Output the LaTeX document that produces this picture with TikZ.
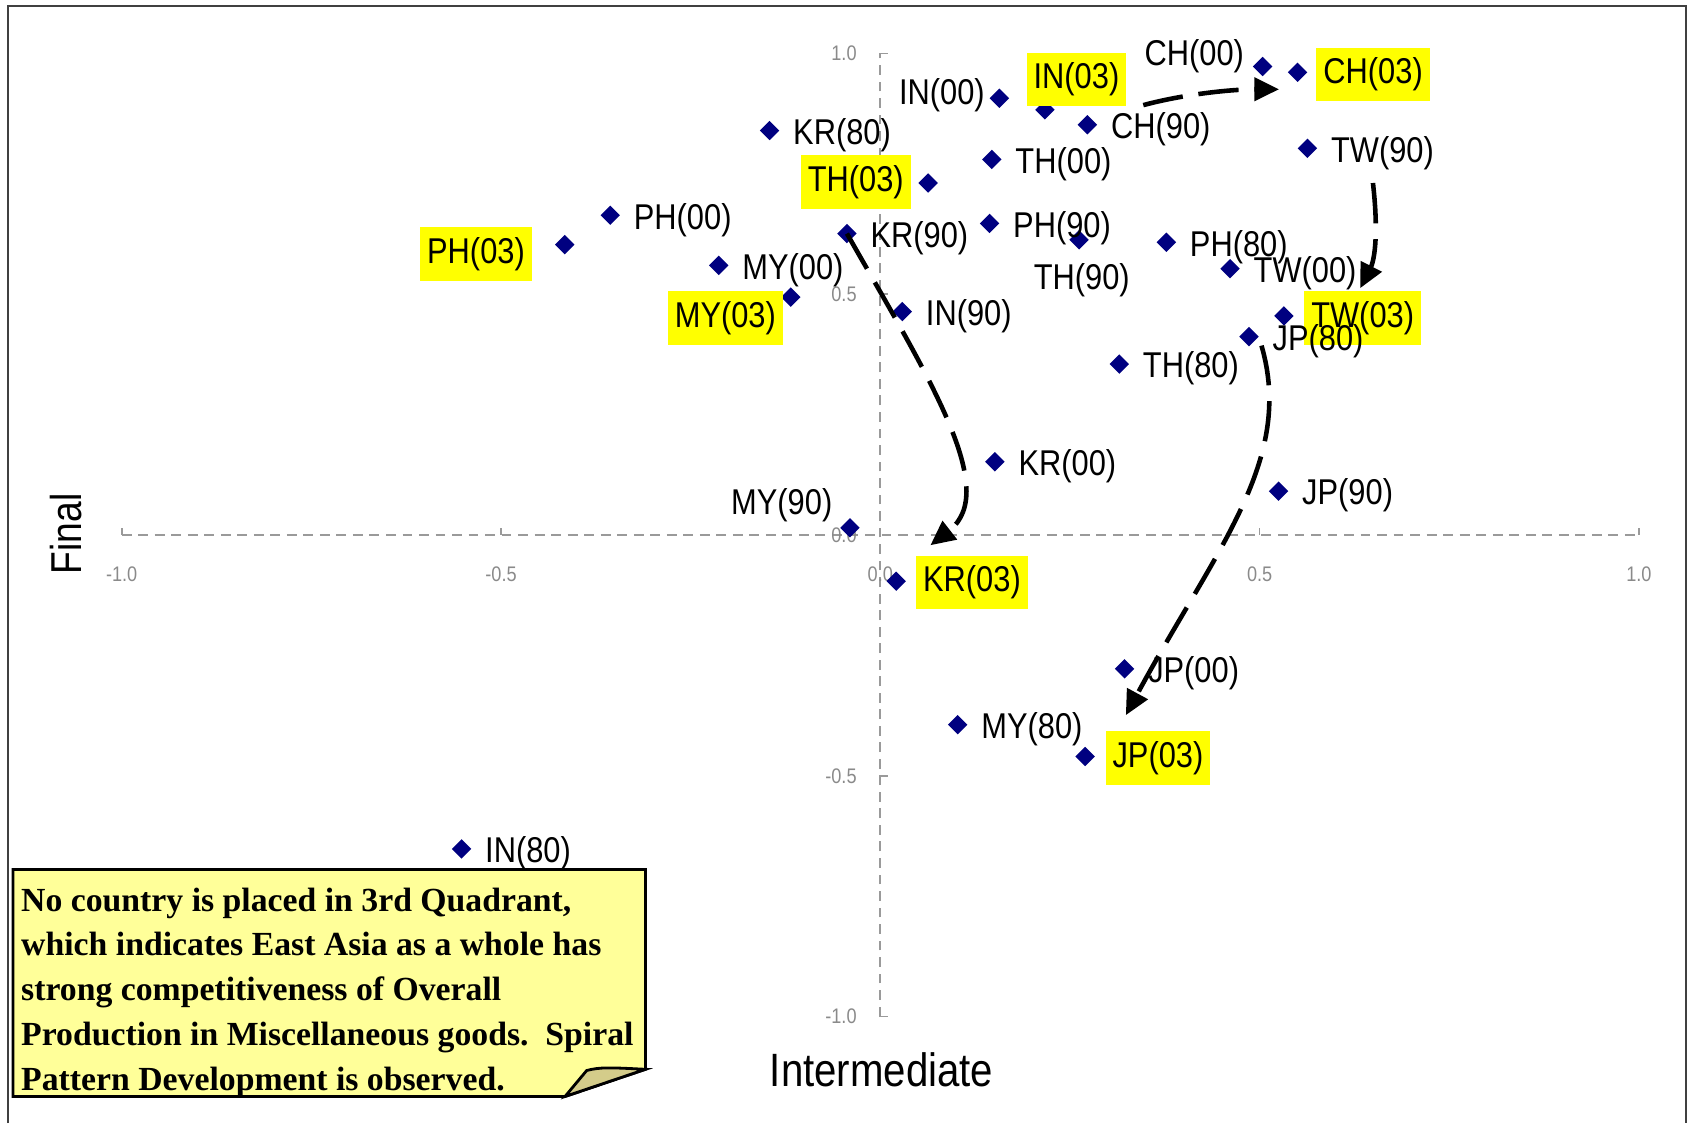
\documentclass[tikz,border=0pt]{standalone}
\usepackage{fontspec}
\setmainfont{Liberation Sans}[FakeStretch=0.86]
\newfontfamily\notefont{Liberation Serif}
\usetikzlibrary{positioning,shapes.geometric,arrows.meta}
\definecolor{ptblue}{HTML}{000080}
\definecolor{hilite}{HTML}{FFFF00}
\definecolor{notebg}{HTML}{FFFF99}
\definecolor{foldbg}{HTML}{D4CC8A}
\definecolor{axisgray}{HTML}{9A9A9A}
\definecolor{tickgray}{HTML}{8A8A8A}
\definecolor{frame}{HTML}{404040}
\begin{document}
\begin{tikzpicture}[
  datapt/.style={diamond, fill=ptblue, inner sep=0pt, minimum width=2mm, minimum height=2mm},
  lbl/.style={inner sep=0.5pt, font=\fontsize{10.2}{12}\selectfont, yshift=-0.45mm},
  hl/.style={fill=hilite, inner xsep=0.7mm, inner ysep=1mm, font=\fontsize{10.2}{12}\selectfont},
  trend/.style={line width=1.3pt, dash pattern=on 11.5pt off 4.5pt, -{Triangle[length=7pt,width=6.5pt]}},
  axisline/.style={axisgray, line width=0.5pt, dash pattern=on 2.8pt off 1.9pt},
  ticklbl/.style={tickgray, inner sep=0pt, font=\fontsize{6}{7}\selectfont}]
  \useasboundingbox (0,0) rectangle (16.92,11.23);
  \draw[frame, line width=0.6pt] (0.08,0) -- (0.08,11.17) -- (16.86,11.17) -- (16.86,0);

  % plot area, data units
  \begin{scope}[shift={(8.803,5.88)}, x=7.586cm, y=4.815cm]
    \draw[axisline] (-1,0) -- (1,0);
    \draw[axisline] (0,-1) -- (0,1);
    \draw[axisgray, line width=0.5pt] (-1,0) -- ++(0,0.07cm);
    \draw[axisgray, line width=0.5pt] (-0.5,0) -- ++(0,0.07cm);
    \draw[axisgray, line width=0.5pt] (0.5,0) -- ++(0,0.07cm);
    \draw[axisgray, line width=0.5pt] (1,0) -- ++(0,0.07cm);
    \draw[axisgray, line width=0.5pt] (0,1) -- ++(0.08cm,0);
    \draw[axisgray, line width=0.5pt] (0,0.5) -- ++(0.08cm,0);
    \draw[axisgray, line width=0.5pt] (0,-0.5) -- ++(0.08cm,0);
    \draw[axisgray, line width=0.5pt] (0,-1) -- ++(0.08cm,0);
    \node[ticklbl, yshift=-3.95mm] (xa) at (-1,0) {-1.0};
    \node[ticklbl, yshift=-3.95mm] (xb) at (-0.5,0) {-0.5};
    \node[ticklbl, yshift=-3.95mm] (xc) at (0,0) {0.0};
    \node[ticklbl, yshift=-3.95mm] (xd) at (0.5,0) {0.5};
    \node[ticklbl, yshift=-3.95mm] (xe) at (1,0) {1.0};
    \node[ticklbl, anchor=east, xshift=-2.3mm] (ya) at (0,1) {1.0};
    \node[ticklbl, anchor=east, xshift=-2.3mm] (yb) at (0,0.5) {0.5};
    \node[ticklbl, anchor=east, xshift=-2.3mm] (yc) at (0,0) {0.0};
    \node[ticklbl, anchor=east, xshift=-2.3mm] (yd) at (0,-0.5) {-0.5};
    \node[ticklbl, anchor=east, xshift=-2.3mm] (ye) at (0,-1) {-1.0};

    \node[datapt] (ch00) at (0.504,0.973) {};
    \node[datapt] (ch03) at (0.550,0.961) {};
    \node[datapt] (in00) at (0.157,0.907) {};
    \node[datapt] (in03) at (0.217,0.883) {};
    \node[datapt] (ch90) at (0.273,0.852) {};
    \node[datapt] (kr80) at (-0.146,0.840) {};
    \node[datapt] (th00) at (0.147,0.780) {};
    \node[datapt] (tw90) at (0.563,0.803) {};
    \node[datapt] (th03) at (0.063,0.731) {};
    \node[datapt] (ph00) at (-0.356,0.664) {};
    \node[datapt] (ph03) at (-0.416,0.603) {};
    \node[datapt] (kr90) at (-0.044,0.626) {};
    \node[datapt] (ph90) at (0.144,0.647) {};
    \node[datapt] (th90) at (0.262,0.613) {};
    \node[datapt] (ph80) at (0.377,0.608) {};
    \node[datapt] (tw00) at (0.461,0.553) {};
    \node[datapt] (my00) at (-0.213,0.560) {};
    \node[datapt] (my03) at (-0.118,0.494) {};
    \node[datapt] (in90) at (0.029,0.464) {};
    \node[datapt] (tw03) at (0.532,0.455) {};
    \node[datapt] (jp80) at (0.486,0.412) {};
    \node[datapt] (th80) at (0.315,0.355) {};
    \node[datapt] (kr00) at (0.151,0.152) {};
    \node[datapt] (jp90) at (0.525,0.091) {};
    \node[datapt] (my90) at (-0.040,0.015) {};
    \node[datapt] (kr03) at (0.021,-0.096) {};
    \node[datapt] (jp00) at (0.322,-0.278) {};
    \node[datapt] (my80) at (0.102,-0.394) {};
    \node[datapt] (jp03) at (0.270,-0.460) {};
    \node[datapt] (in80) at (-0.552,-0.652) {};
  \end{scope}

  % 2003 positions
  \node[hl, right=0.75mm of ch03, yshift=-0.2mm] (ch03l) {CH(03)};
  \node[hl, anchor=south west] (in03l) at ([xshift=-1.9mm,yshift=0.3mm]in03.center) {IN(03)};
  \node[hl, left=0.6mm of th03, yshift=0.1mm] (th03l) {TH(03)};
  \node[hl, left=2.15mm of ph03, yshift=-0.93mm] (ph03l) {PH(03)};
  \node[hl, left=-0.35mm of my03, yshift=-2.08mm] (my03l) {MY(03)};
  \node[hl, right=0.9mm of tw03, yshift=-0.22mm] (tw03l) {TW(03)};
  \node[hl, right=0.85mm of kr03, yshift=-0.14mm] (kr03l) {KR(03)};
  \node[hl, right=0.9mm of jp03, yshift=-0.16mm] (jp03l) {JP(03)};

  \node[lbl, left=0.55mm of ch00, yshift=1.5mm] (ch00l) {CH(00)};
  \node[lbl, left=0.15mm of in00, yshift=0.75mm] (in00l) {IN(00)};
  \node[lbl, right=1.05mm of ch90] (ch90l) {CH(90)};
  \node[lbl, right=1.05mm of kr80] (kr80l) {KR(80)};
  \node[lbl, right=1.05mm of th00] (th00l) {TH(00)};
  \node[lbl, right=1.05mm of tw90] (tw90l) {TW(90)};
  \node[lbl, right=1.05mm of ph00] (ph00l) {PH(00)};
  \node[lbl, right=1.05mm of kr90] (kr90l) {KR(90)};
  \node[lbl, right=1.05mm of ph90] (ph90l) {PH(90)};
  \node[lbl, below=0.62mm of th90, xshift=0.27mm] (th90l) {TH(90)};
  \node[lbl, right=1.05mm of ph80] (ph80l) {PH(80)};
  \node[lbl, right=1.05mm of tw00] (tw00l) {TW(00)};
  \node[lbl, right=1.05mm of my00] (my00l) {MY(00)};
  \node[lbl, right=1.05mm of in90] (in90l) {IN(90)};
  \node[lbl, right=1.05mm of jp80] (jp80l) {JP(80)};
  \node[lbl, right=1.05mm of th80] (th80l) {TH(80)};
  \node[lbl, right=1.05mm of kr00] (kr00l) {KR(00)};
  \node[lbl, right=1.05mm of jp90] (jp90l) {JP(90)};
  \node[lbl, left=0.45mm of my90, yshift=2.75mm] (my90l) {MY(90)};
  \node[lbl, right=1.05mm of jp00] (jp00l) {JP(00)};
  \node[lbl, right=1.05mm of my80] (my80l) {MY(80)};
  \node[lbl, right=1.05mm of in80] (in80l) {IN(80)};

  % spiral moves
  \draw[trend] ([xshift=1.63mm,yshift=0.17mm]in03l.south east) .. controls +(0.435,0.116) and +(-0.45,0) .. ([xshift=-1.85mm,yshift=-1.7mm]ch03.center);
  \draw[trend] ([xshift=-0.95mm,yshift=-1.1mm]tw90l.south) .. controls +(0.065,-0.572) and +(0.13,0.255) .. ([xshift=-0.25mm,yshift=0.25mm]tw03l.north);
  \draw[trend] (kr90.center) .. controls +(0.82,-1.443) and +(0.703,0.546) .. ([xshift=1.5mm,yshift=1mm]kr03l.north west);
  \draw[trend] ([xshift=1.25mm,yshift=-0.9mm]jp80.center) .. controls +(0.333,-1.143) and +(0.904,1.672) .. ([xshift=2.1mm,yshift=1.55mm]jp03l.north west);

  \node[font=\fontsize{13.3}{16}\selectfont] (xtitle) at (8.816,0.53) {Intermediate};
  \node[font=\fontsize{12.3}{15}\selectfont, rotate=90] (ytitle) at (0.665,5.89) {Final};

  % comment box with folded corner
  \draw[fill=notebg, line width=0.8pt] (0.13,0.265) -- (0.13,2.535) -- (6.455,2.535) -- (6.455,0.537) -- (5.65,0.265) -- cycle;
  \draw[fill=foldbg, line width=0.8pt] (5.65,0.265) -- (5.867,0.525) .. controls (6.0,0.56) and (6.1,0.555) .. (6.455,0.537) -- cycle;
  \node[anchor=north west, inner sep=0pt, align=left, font=\notefont\bfseries\fontsize{9.6}{12.75}\selectfont] (note) at (0.205,2.36)
    {No country is placed in 3rd Quadrant,\\which indicates East Asia as a whole has\\strong competitiveness of Overall\\Production in Miscellaneous goods.\ \ Spiral\\Pattern Development is observed.};
\end{tikzpicture}
\end{document}
